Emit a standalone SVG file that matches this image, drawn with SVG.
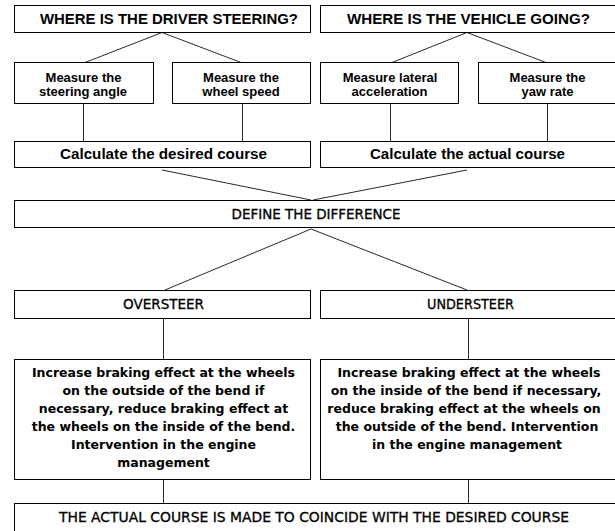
<svg xmlns="http://www.w3.org/2000/svg" width="615" height="531" viewBox="0 0 615 531">
<style>
  .box { fill: #ffffff; stroke: #000000; stroke-width: 1; }
  .conn { stroke: #2a2a2a; stroke-width: 1; fill: none; }
  .t1 { font-family: "Liberation Sans", Arial, sans-serif; font-weight: bold; font-size: 14px; fill: #000; text-anchor: middle; }
  .t2 { font-family: "Liberation Sans", Arial, sans-serif; font-weight: bold; font-size: 13px; fill: #000; text-anchor: middle; }
  .t3 { font-family: "DejaVu Sans", Verdana, sans-serif; font-size: 13.5px; fill: #000; stroke: #000; stroke-width: 0.3; text-anchor: middle; }
  .t4 { font-family: "DejaVu Sans", Verdana, sans-serif; font-weight: bold; font-size: 12.5px; fill: #000; text-anchor: middle; }
</style>
<rect width="615" height="531" fill="#ffffff"/>

<g id="connectors">
  <line class="conn" x1="162" y1="32.5" x2="85" y2="62.5"/>
  <line class="conn" x1="162" y1="32.5" x2="241" y2="62.5"/>
  <line class="conn" x1="467" y1="32.5" x2="392" y2="62.5"/>
  <line class="conn" x1="467" y1="32.5" x2="546" y2="62.5"/>
  <line class="conn" x1="83.5" y1="104" x2="83.5" y2="141"/>
  <line class="conn" x1="242.5" y1="104" x2="242.5" y2="141"/>
  <line class="conn" x1="390.5" y1="104" x2="390.5" y2="141"/>
  <line class="conn" x1="547.5" y1="104" x2="547.5" y2="141"/>
  <line class="conn" x1="162" y1="170" x2="311" y2="200"/>
  <line class="conn" x1="467" y1="170" x2="313" y2="200"/>
  <line class="conn" x1="311" y1="229" x2="165" y2="290"/>
  <line class="conn" x1="311" y1="229" x2="467" y2="290"/>
  <line class="conn" x1="163.5" y1="318" x2="163.5" y2="359"/>
  <line class="conn" x1="468.5" y1="318" x2="468.5" y2="359"/>
  <line class="conn" x1="163.5" y1="479" x2="163.5" y2="503"/>
  <line class="conn" x1="468.5" y1="479" x2="468.5" y2="503"/>
</g>

<g id="driver-steering">
  <rect class="box" x="14.5" y="5.5" width="296" height="27"/>
  <text class="t1" x="169" y="24" textLength="258" lengthAdjust="spacingAndGlyphs">WHERE IS THE DRIVER STEERING?</text>
</g>
<g id="vehicle-going">
  <rect class="box" x="320.5" y="5.5" width="300" height="27"/>
  <text class="t1" x="468.5" y="24" textLength="243" lengthAdjust="spacingAndGlyphs">WHERE IS THE VEHICLE GOING?</text>
</g>

<g id="steering-angle">
  <rect class="box" x="14.5" y="62.5" width="139" height="41"/>
  <text class="t2" x="83.5" y="82">Measure the</text>
  <text class="t2" x="83" y="96">steering angle</text>
</g>
<g id="wheel-speed">
  <rect class="box" x="172.5" y="62.5" width="138" height="41"/>
  <text class="t2" x="241" y="82">Measure the</text>
  <text class="t2" x="241" y="96">wheel speed</text>
</g>
<g id="lateral-acceleration">
  <rect class="box" x="320.5" y="62.5" width="138" height="41"/>
  <text class="t2" x="390" y="82">Measure lateral</text>
  <text class="t2" x="389.5" y="96">acceleration</text>
</g>
<g id="yaw-rate">
  <rect class="box" x="478.5" y="62.5" width="142" height="41"/>
  <text class="t2" x="547.5" y="82">Measure the</text>
  <text class="t2" x="547.5" y="96">yaw rate</text>
</g>

<g id="desired-course">
  <rect class="box" x="14.5" y="141.5" width="296" height="26"/>
  <text class="t1" x="163.5" y="159" textLength="207" lengthAdjust="spacingAndGlyphs">Calculate the desired course</text>
</g>
<g id="actual-course">
  <rect class="box" x="320.5" y="141.5" width="300" height="26"/>
  <text class="t1" x="467.5" y="159" textLength="195" lengthAdjust="spacingAndGlyphs">Calculate the actual course</text>
</g>

<g id="define-difference">
  <rect class="box" x="14.5" y="200.5" width="606" height="27"/>
  <text class="t3" x="316" y="219" textLength="169" lengthAdjust="spacingAndGlyphs">DEFINE THE DIFFERENCE</text>
</g>

<g id="oversteer">
  <rect class="box" x="14.5" y="290.5" width="296" height="28"/>
  <text class="t3" x="163.5" y="309" textLength="81" lengthAdjust="spacingAndGlyphs">OVERSTEER</text>
</g>
<g id="understeer">
  <rect class="box" x="320.5" y="290.5" width="300" height="28"/>
  <text class="t3" x="470.5" y="309" textLength="87" lengthAdjust="spacingAndGlyphs">UNDERSTEER</text>
</g>

<g id="oversteer-action">
  <rect class="box" x="14.5" y="359.5" width="296" height="120"/>
  <text class="t4" x="163.5" y="377">Increase braking effect at the wheels</text>
  <text class="t4" x="163.5" y="395">on the outside of the bend if</text>
  <text class="t4" x="163.5" y="413">necessary, reduce braking effect at</text>
  <text class="t4" x="163.5" y="431">the wheels on the inside of the bend.</text>
  <text class="t4" x="163.5" y="449">Intervention in the engine</text>
  <text class="t4" x="163.5" y="467">management</text>
</g>
<g id="understeer-action">
  <rect class="box" x="320.5" y="359.5" width="300" height="120"/>
  <text class="t4" x="469" y="377">Increase braking effect at the wheels</text>
  <text class="t4" x="466" y="395">on the inside of the bend if necessary,</text>
  <text class="t4" x="464" y="413">reduce braking effect at the wheels on</text>
  <text class="t4" x="467" y="431">the outside of the bend. Intervention</text>
  <text class="t4" x="467" y="449">in the engine management</text>
</g>

<g id="coincide">
  <rect class="box" x="14.5" y="503.5" width="606" height="40"/>
  <text class="t3" x="314" y="522" textLength="510" lengthAdjust="spacingAndGlyphs">THE ACTUAL COURSE IS MADE TO COINCIDE WITH THE DESIRED COURSE</text>
</g>
</svg>
